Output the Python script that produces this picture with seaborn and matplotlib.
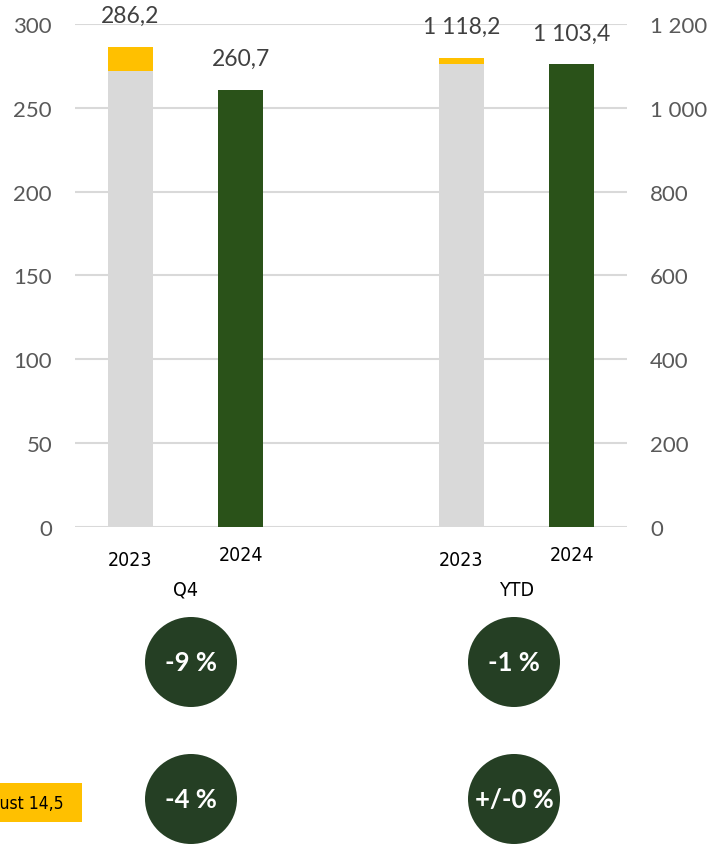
import matplotlib
matplotlib.use('Agg')
import pandas as pd
import seaborn as sns
import matplotlib.pyplot as plt
from matplotlib.patches import Ellipse, Rectangle
from matplotlib.transforms import blended_transform_factory

# data
periods = ['Q4', 'Q4', 'YTD', 'YTD']
years = ['2023', '2024', '2023', '2024']
reported = [271.7, 260.7, 1103.7, 1103.4]
adjustment = [14.5, 0.0, 14.5, 0.0]
value_labels = ['286,2', '260,7', '1 118,2', '1 103,4']
left_ticks = [0, 50, 100, 150, 200, 250, 300]
right_ticks = [0, 200, 400, 600, 800, 1000, 1200]
right_ticklabels = ['0', '200', '400', '600', '800', '1 000', '1 200']
change_top = ['-9 %', '-1 %']
change_bottom = ['-4 %', '+/-0 %']
adjust_text = 'Just 14,5'

GREY = '#D9D9D9'
YELLOW = '#FFC000'
GREEN = '#2A5219'
DARK = '#253F24'
TICKC = '#595959'
NARROW = dict(family='DejaVu Sans', stretch='condensed')

sns.set_theme(style='white')
plt.rcParams['font.family'] = ['Lato', 'DejaVu Sans']

df = pd.DataFrame({'period': periods, 'year': years, 'base': reported, 'adj': adjustment})
df['total'] = df['base'] + df['adj']
df['slot'] = df['period'] + ' ' + df['year']
order = ['Q4 2023', 'Q4 2024', '', 'YTD 2023', 'YTD 2024']
pal = {'2023': GREY, '2024': GREEN}

fig = plt.figure(figsize=(7.15, 8.45), dpi=100)
ax = fig.add_axes([75/715, 317/845, 552/715, 503/845])
ax2 = ax.twinx()

for a, per in [(ax, 'Q4'), (ax2, 'YTD')]:
    sub = df[df.period == per]
    sns.barplot(data=sub, x='slot', y='total', order=order, color=YELLOW, saturation=1,
                width=0.41, errorbar=None, linewidth=0, ax=a)
    sns.barplot(data=sub, x='slot', y='base', hue='year', palette=pal, order=order,
                dodge=False, legend=False, saturation=1, width=0.41, errorbar=None,
                linewidth=0, ax=a)
    for k, r in sub.iterrows():
        i = order.index(r['slot'])
        a.annotate(value_labels[k], (i, r['total']), xytext=(0, 22.7), textcoords='offset points',
                   ha='center', va='center', fontsize=16.5, color='#404040')

ax.set_xlim(-0.5, 4.5)
ax.set_ylim(0, 300)
ax2.set_ylim(0, 1200)
ax.set_yticks(left_ticks)
ax.set_yticklabels([str(t) for t in left_ticks])
ax2.set_yticks(right_ticks)
ax2.set_yticklabels(right_ticklabels)
for a in (ax, ax2):
    a.set_xticks([])
    a.set_xlabel('')
    a.set_ylabel('')
    a.tick_params(axis='y', length=0, pad=16.5, labelsize=16, labelcolor=TICKC)
    for s in a.spines.values():
        s.set_visible(False)
ax.yaxis.grid(True, color=GREY, lw=1.5)
ax.set_axisbelow(True)
ax2.grid(False)

# category labels under the bars
tr = blended_transform_factory(ax.transData, fig.transFigure)
year_y = {'2023': 560, '2024': 556}
for per, yr in zip(periods, years):
    i = order.index(per + ' ' + yr)
    ax.text(i, 1 - year_y[yr]/845, yr, transform=tr, ha='center', va='center',
            fontsize=14, color='black', **NARROW)
for per, x in [('Q4', 0.5), ('YTD', 3.5)]:
    ax.text(x, 1 - 590/845, per, transform=tr, ha='center', va='center',
            fontsize=14, color='black', **NARROW)

# change bubbles and adjustment tag (tag text runs off the left edge, as in the source)
ann = fig.add_axes([0, 0, 1, 1], zorder=5)
ann.set_xlim(0, 715)
ann.set_ylim(845, 0)
ann.axis('off')
for cx, top, bot in zip([191, 514], change_top, change_bottom):
    for cy, txt in [(663, top), (800, bot)]:
        ann.add_patch(Ellipse((cx, cy), 92, 90, color=DARK, lw=0))
        ann.text(cx, cy, txt, ha='center', va='center', color='white', fontsize=18.5, fontweight='bold')
ann.add_patch(Rectangle((0, 784), 82, 39, color=YELLOW, lw=0))
ann.text(64, 804, adjust_text, ha='right', va='center', fontsize=12.5, color='black', **NARROW)

fig.savefig('out.png', dpi=100)
